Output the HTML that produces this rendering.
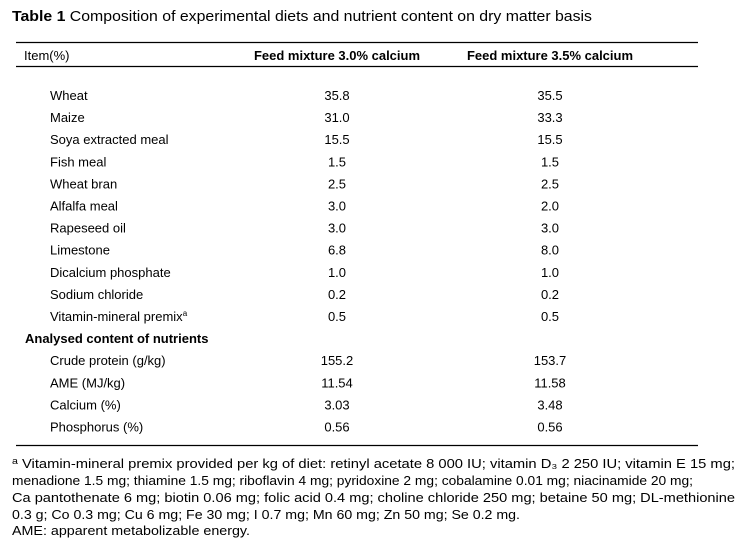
<!DOCTYPE html>
<html><head><meta charset="utf-8"><style>
html,body{margin:0;padding:0;background:#fff;}
svg{display:block;font-family:"Liberation Sans",Arial,sans-serif;}
text{fill:#000;}
</style></head><body>
<svg width="739" height="538" viewBox="0 0 739 538">
<text x="12" y="21" font-size="14.5" textLength="580" lengthAdjust="spacingAndGlyphs"><tspan font-weight="bold">Table 1</tspan> Composition of experimental diets and nutrient content on dry matter basis</text>
<line x1="16" y1="42.5" x2="698" y2="42.5" stroke="#000" stroke-width="1.2"/>
<text x="24" y="60" font-size="13">Item(%)</text>
<text x="337" y="60" font-size="13" font-weight="bold" text-anchor="middle" textLength="166" lengthAdjust="spacingAndGlyphs">Feed mixture 3.0% calcium</text>
<text x="550" y="60" font-size="13" font-weight="bold" text-anchor="middle" textLength="166" lengthAdjust="spacingAndGlyphs">Feed mixture 3.5% calcium</text>
<line x1="16" y1="66.5" x2="698" y2="66.5" stroke="#000" stroke-width="1.2"/>
<g id="rows" font-size="13"></g>
<line x1="16" y1="445.5" x2="698" y2="445.5" stroke="#000" stroke-width="1.2"/>
<g font-size="12.5">
<text x="12" y="468" textLength="723" lengthAdjust="spacingAndGlyphs"><tspan font-size="9" dy="-4">a</tspan><tspan dy="4"> Vitamin-mineral premix provided per kg of diet: retinyl acetate 8 000 IU; vitamin D₃ 2 250 IU; vitamin E 15 mg;</tspan></text>
<text x="12" y="485" textLength="681" lengthAdjust="spacingAndGlyphs">menadione 1.5 mg; thiamine 1.5 mg; riboflavin 4 mg; pyridoxine 2 mg; cobalamine 0.01 mg; niacinamide 20 mg;</text>
<text x="12" y="502" textLength="723" lengthAdjust="spacingAndGlyphs">Ca pantothenate 6 mg; biotin 0.06 mg; folic acid 0.4 mg; choline chloride 250 mg; betaine 50 mg; DL-methionine</text>
<text x="12" y="519" textLength="508" lengthAdjust="spacingAndGlyphs">0.3 g; Co 0.3 mg; Cu 6 mg; Fe 30 mg; I 0.7 mg; Mn 60 mg; Zn 50 mg; Se 0.2 mg.</text>
<text x="12" y="535" textLength="238" lengthAdjust="spacingAndGlyphs">AME: apparent metabolizable energy.</text>
</g>
</svg>
<script>
const labels=["Wheat","Maize","Soya extracted meal","Fish meal","Wheat bran","Alfalfa meal","Rapeseed oil","Limestone","Dicalcium phosphate","Sodium chloride","Vitamin-mineral premix","Analysed content of nutrients","Crude protein (g/kg)","AME (MJ/kg)","Calcium (%)","Phosphorus (%)"];
const col1=["35.8","31.0","15.5","1.5","2.5","3.0","3.0","6.8","1.0","0.2","0.5","","155.2","11.54","3.03","0.56"];
const col2=["35.5","33.3","15.5","1.5","2.5","2.0","3.0","8.0","1.0","0.2","0.5","","153.7","11.58","3.48","0.56"];
const g=document.getElementById('rows');
const NS="http://www.w3.org/2000/svg";
labels.forEach((l,i)=>{
  const y=100+i*22.1;
  const sec=(l==="Analysed content of nutrients");
  const t=document.createElementNS(NS,'text');
  
  
  t.setAttribute('x',sec?25:50);t.setAttribute('y',y);
  if(sec)t.setAttribute('font-weight','bold');
  t.textContent=l;
  if(l==="Vitamin-mineral premix"){const s=document.createElementNS(NS,'tspan');s.setAttribute('font-size','8');s.setAttribute('dy','-5');s.textContent='a';t.appendChild(s);}
  g.appendChild(t);
  [[col1[i],337],[col2[i],550]].forEach(([v,x])=>{
    if(!v)return;
    const c=document.createElementNS(NS,'text');
    
    
    c.setAttribute('x',x);c.setAttribute('y',y);c.setAttribute('text-anchor','middle');
    c.textContent=v;g.appendChild(c);
  });
});
</script>
</body></html>
